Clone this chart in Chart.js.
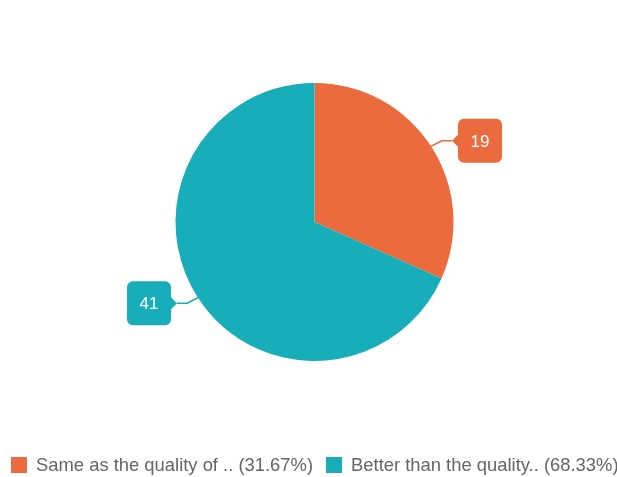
<!DOCTYPE html>
<html>
<head>
<meta charset="utf-8">
<script src="https://cdn.jsdelivr.net/npm/chart.js@4/dist/chart.umd.min.js"></script>
<style>
html,body{margin:0;padding:0;background:#fff;}
#wrap{width:617px;height:477px;position:relative;}
</style>
</head>
<body>
<div id="wrap"><canvas id="c" width="617" height="477"></canvas></div>
<script>
const categories = ["Same as the quality of ..", "Better than the quality.."];
const values = [19, 41];
const colors = ["#EB6A3E", "#17AEB9"];

const total = values.reduce((a, b) => a + b, 0);
const legendTexts = categories.map((c, i) => c + ' (' + (values[i] / total * 100).toFixed(2) + '%)');

const calloutPlugin = {
  id: 'callouts',
  afterDatasetsDraw(chart) {
    const ctx = chart.ctx;
    const meta = chart.getDatasetMeta(0);
    meta.data.forEach((arc, i) => {
      const p = arc.getProps(['x', 'y', 'startAngle', 'endAngle', 'outerRadius'], true);
      const mid = (p.startAngle + p.endAngle) / 2;
      const ex = p.x + Math.cos(mid) * p.outerRadius;
      const ey = p.y + Math.sin(mid) * p.outerRadius;
      const right = Math.cos(mid) >= 0;
      const dir = right ? 1 : -1;
      const ox = ex + Math.cos(mid) * 13;
      const oy = ey + Math.sin(mid) * 10;
      const bx = ox + dir * 10;
      const by = oy;
      const w = 44, h = 44, r = 6;
      const left = right ? bx + 6 : bx - 6 - w;
      const top = by - h / 2;
      ctx.save();
      ctx.strokeStyle = colors[i];
      ctx.lineWidth = 1.5;
      ctx.beginPath();
      ctx.moveTo(ex, ey);
      ctx.lineTo(ox, oy);
      ctx.lineTo(bx, by);
      ctx.stroke();
      ctx.fillStyle = colors[i];
      ctx.beginPath();
      ctx.moveTo(bx, by);
      if (right) {
        ctx.lineTo(left + 1, by - 7);
        ctx.lineTo(left + 1, by + 7);
      } else {
        ctx.lineTo(left + w - 1, by - 7);
        ctx.lineTo(left + w - 1, by + 7);
      }
      ctx.closePath();
      ctx.fill();
      ctx.beginPath();
      ctx.roundRect(left, top, w, h, r);
      ctx.fill();
      ctx.fillStyle = '#ffffff';
      ctx.font = '17px "Liberation Sans", Arial, sans-serif';
      ctx.textAlign = 'center';
      ctx.textBaseline = 'middle';
      ctx.fillText(String(values[i]), left + w / 2, top + h / 2 + 1);
      ctx.restore();
    });
  }
};

const legendPlugin = {
  id: 'bottomLegend',
  afterDraw(chart) {
    const ctx = chart.ctx;
    ctx.save();
    ctx.font = '18.4px "Liberation Sans", Arial, sans-serif';
    ctx.textBaseline = 'middle';
    ctx.textAlign = 'left';
    const cy = 465;
    const box = 16;
    let x = 11;
    legendTexts.forEach((t, i) => {
      ctx.fillStyle = colors[i];
      ctx.fillRect(x, cy - box / 2, box, box);
      const tx = x + box + 9;
      ctx.fillStyle = '#666666';
      ctx.fillText(t, tx, cy + 1);
      x = tx + ctx.measureText(t).width + 13;
    });
    ctx.restore();
  }
};

new Chart(document.getElementById('c'), {
  type: 'pie',
  data: {
    labels: categories,
    datasets: [{
      data: values,
      backgroundColor: colors,
      borderColor: '#ffffff',
      borderWidth: 0,
      radius: 139
    }]
  },
  options: {
    responsive: false,
    animation: false,
    layout: { padding: { top: 0, bottom: 33, left: 12, right: 0 } },
    plugins: {
      tooltip: { enabled: false },
      legend: { display: false }
    }
  },
  plugins: [calloutPlugin, legendPlugin]
});
</script>
</body>
</html>
